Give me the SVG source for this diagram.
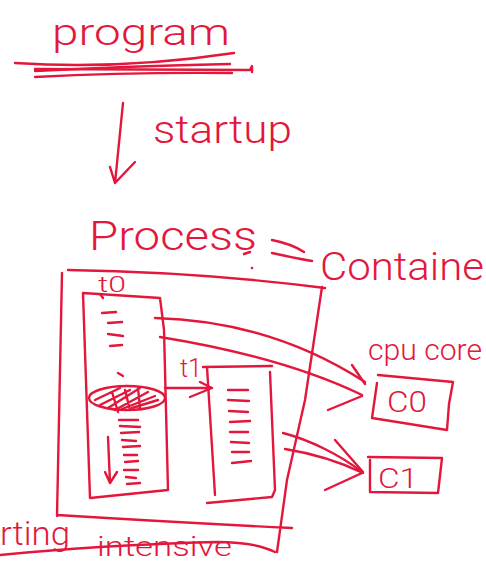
<svg xmlns="http://www.w3.org/2000/svg" width="486" height="574" viewBox="0 0 486 574">
<style>
.s{fill:none;stroke:#e3173c;stroke-width:2.4;stroke-linecap:round;stroke-linejoin:round}
.t{fill:#e3173c;font-family:"Roboto","Liberation Sans","DejaVu Sans",sans-serif;font-weight:300}
</style>
<rect width="486" height="574" fill="#ffffff"/>
<g id="program">
<text class="t" x="52" y="45" font-size="36" textLength="178" lengthAdjust="spacingAndGlyphs">program</text>
<path class="s" d="M15 63 Q120 70 234 53"/>
<path class="s" d="M35 69 L250 70 L252 66 L252 72"/>
<path class="s" d="M35 71 Q130 66 230 64"/>
<path class="s" d="M35 77 Q130 72 232 73"/>
</g>
<g id="connectors">
<path class="s" d="M123 103 L115 183 M110 167 L115 183 L135 162"/>
<path class="s" d="M155 318 C230 320 300 340 365 382"/>
<path class="s" d="M160 337 C240 350 310 370 362 395"/>
<path class="s" d="M352 365 L365 384 M328 410 L362 396"/>
<path class="s" d="M283 433 C310 440 340 455 362 472"/>
<path class="s" d="M285 449 C310 453 340 462 363 473"/>
<path class="s" d="M335 440 L363 472 M325 490 L362 473"/>
<path class="s" d="M165 388 L212 388 M200 382 L212 388 L190 397"/>
</g>
<g id="startup">
<text class="t" x="153" y="143" font-size="38" textLength="139" lengthAdjust="spacingAndGlyphs">startup</text>
</g>
<g id="process">
<text class="t" x="89" y="250" font-size="40" textLength="168" lengthAdjust="spacingAndGlyphs">Process</text>
<path class="s" d="M244 254 L250 252"/>
<circle cx="252" cy="268" r="1.3" fill="#e3173c"/>
<path class="s" d="M272 240 Q292 244 304 252 M272 253 Q295 258 312 261"/>
<text class="t" x="320" y="280" font-size="38" textLength="178" lengthAdjust="spacingAndGlyphs">Container</text>
<path class="s" d="M68 270 Q200 272 325 288 M62 273 L57 516 M322 287 L305 400 L287 480 L277 552 M57 515 Q170 522 292 528"/>
</g>
<g id="t0">
<text class="t" x="98" y="292" font-size="22" textLength="28" lengthAdjust="spacingAndGlyphs">t0</text>
<path class="s" d="M83 293 L160 298 L164 330 L168 490 L90 498 L83 293 Z"/>
<path class="s" d="M103 298 L100 294"/>
<path class="s" d="M102 313 L116 312 M108 323 L122 322 M108 334 L123 336 M110 346 L122 345 M118 373 L123 376"/>
<ellipse class="s" cx="127" cy="398" rx="38" ry="12"/>
<path class="s" d="M100 405 L130 390 M108 408 L140 388 M115 410 L148 392 M122 409 L155 396 M132 408 L158 400 M95 400 L120 388 M112 392 L118 412 M125 390 L130 410 M138 388 L140 408"/>
<path class="s" d="M119 420 L138 420 M120 426 L140 427 M121 433 L139 432 M122 440 L136 441 M123 447 L140 446 M124 455 L137 455 M125 462 L138 461 M124 470 L138 470 M126 477 L136 478 M127 484 L140 483"/>
<path class="s" d="M108 437 L110 483 M105 472 L110 483 L117 472"/>
</g>
<g id="t1">
<text class="t" x="180" y="377" font-size="26" textLength="22" lengthAdjust="spacingAndGlyphs">t1</text>
<path class="s" d="M203 367 L272 366 M207 367 L215 495 M270 372 L275 490 L272 497 L207 503"/>
<path class="s" d="M228 390 L248 390 M228 400 L249 401 M229 411 L248 412 M230 422 L250 421 M230 432 L248 432 M231 442 L249 443 M232 452 L249 452 M232 463 L251 461"/>
</g>
<g id="cpu-core">
<text class="t" x="368" y="360" font-size="29" textLength="114" lengthAdjust="spacingAndGlyphs">cpu core</text>
</g>
<g id="C0">
<path class="s" d="M378 375 L453 382 L449 404 L447 430 L372 418 L377 383"/>
<text class="t" x="387" y="412" font-size="30" textLength="40" lengthAdjust="spacingAndGlyphs">C0</text>
</g>
<g id="C1">
<path class="s" d="M368 457 L442 458 L438 493 L370 492 L370 460"/>
<text class="t" x="378" y="488" font-size="28" textLength="40" lengthAdjust="spacingAndGlyphs">C1</text>
</g>
<g id="intensive">
<text class="t" x="0" y="545" font-size="34" textLength="70" lengthAdjust="spacingAndGlyphs">rting</text>
<text class="t" x="97" y="556" font-size="28" textLength="135" lengthAdjust="spacingAndGlyphs">intensive</text>
<path class="s" d="M0 555 Q100 545 217 542 Q255 542 275 552"/>
</g>
</svg>
